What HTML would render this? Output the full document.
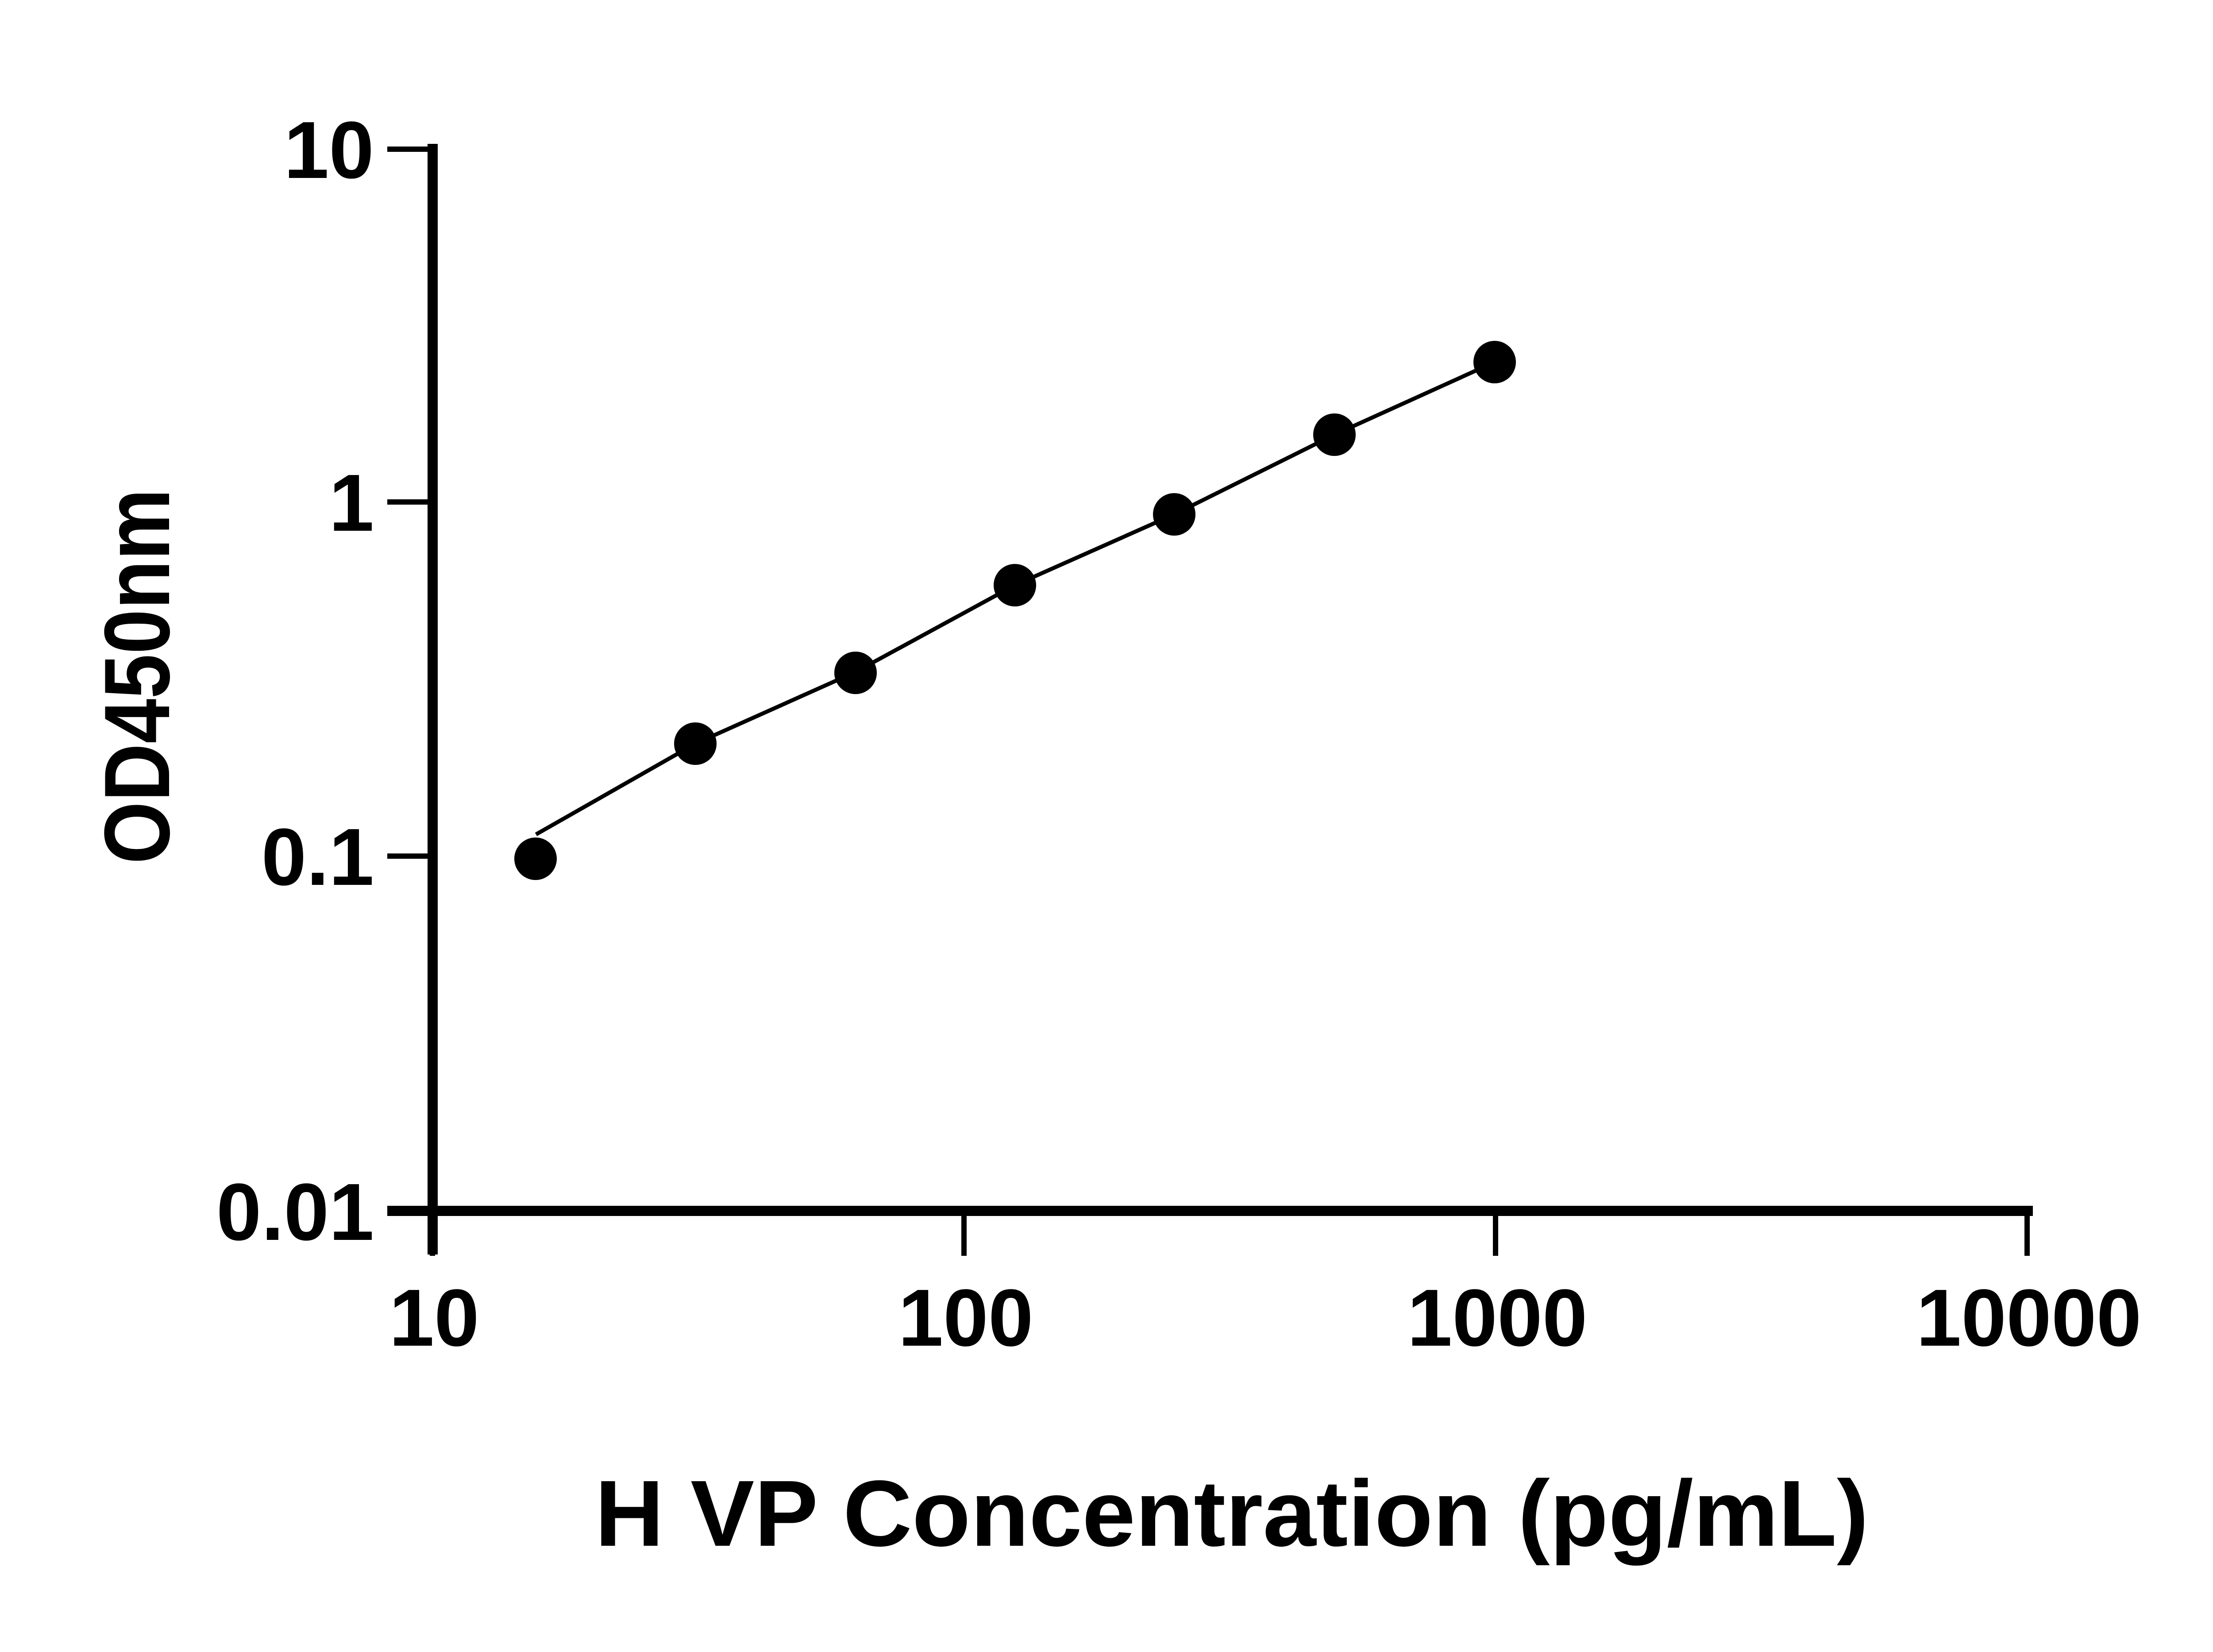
<!DOCTYPE html>
<html><head><meta charset="utf-8"><style>html,body{margin:0;padding:0;background:#fff}svg{display:block}</style></head>
<body>
<svg width="5130" height="3732" viewBox="0 0 5130 3732" xmlns="http://www.w3.org/2000/svg">
<rect width="5130" height="3732" fill="#fff"/>
<g fill="#000" stroke="none">
<!-- y axis -->
<rect x="966" y="325" width="23" height="2509"/>
<!-- x axis -->
<rect x="875" y="2724" width="3718" height="23"/>
<!-- y ticks -->
<rect x="875" y="331" width="100" height="12"/>
<rect x="875" y="1128" width="100" height="12"/>
<rect x="875" y="1928" width="100" height="12"/>
<!-- x ticks -->
<rect x="971" y="2730" width="12" height="107"/>
<rect x="2172" y="2730" width="12" height="107"/>
<rect x="3373" y="2730" width="12" height="107"/>
<rect x="4574" y="2724" width="12" height="113"/>
</g>
<polyline points="1211,1885 1571,1680 1933,1518 2293,1322 2653,1162 3015,982 3377,818" fill="none" stroke="#000" stroke-width="9"/>
<g fill="#000">
<circle cx="1210" cy="1940" r="48"/>
<circle cx="1571" cy="1680" r="48"/>
<circle cx="1933" cy="1520" r="48"/>
<circle cx="2293" cy="1322" r="48"/>
<circle cx="2653" cy="1162" r="48"/>
<circle cx="3015" cy="982" r="48"/>
<circle cx="3377" cy="818" r="48"/>
</g>
<g font-family="Liberation Sans, sans-serif" font-weight="bold" font-size="183" fill="#000">
<text x="845" y="402" text-anchor="end">10</text>
<text x="845" y="1199" text-anchor="end">1</text>
<text x="845" y="1999" text-anchor="end">0.1</text>
<text x="845" y="2801" text-anchor="end">0.01</text>
<text x="981" y="3040" text-anchor="middle">10</text>
<text x="2182" y="3040" text-anchor="middle">100</text>
<text x="3383" y="3040" text-anchor="middle">1000</text>
<text x="4584" y="3040" text-anchor="middle">10000</text>
</g>
<text x="1344" y="3492" font-family="Liberation Sans, sans-serif" font-weight="bold" font-size="212" textLength="2878" lengthAdjust="spacingAndGlyphs" fill="#000">H VP Concentration (pg/mL)</text>
<text transform="translate(382,1952) rotate(-90)" x="0" y="0" font-family="Liberation Sans, sans-serif" font-weight="bold" font-size="210" textLength="848" lengthAdjust="spacingAndGlyphs" fill="#000">OD450nm</text>
</svg>
</body></html>
